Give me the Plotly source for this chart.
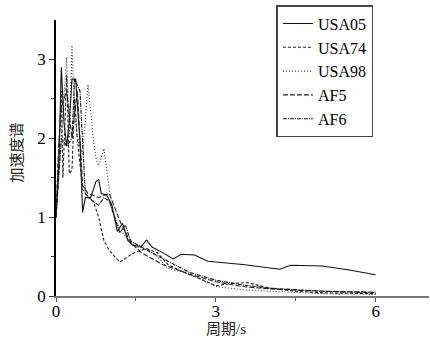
import plotly.graph_objects as go

# ---- data ----
usa05_x = [0, 0.05, 0.1, 0.15, 0.2, 0.25, 0.3, 0.37, 0.45, 0.5, 0.55, 0.65, 0.75, 0.8, 0.85, 0.95, 1.05, 1.15, 1.25, 1.35, 1.45, 1.6, 1.7, 1.8, 2.0, 2.2, 2.35, 2.6, 2.85, 3.5, 4.2, 4.4, 5.0, 5.5, 6.0]
usa05_y = [1.0, 1.6, 2.9, 2.2, 1.9, 2.2, 2.75, 2.75, 1.95, 1.06, 1.25, 1.25, 1.45, 1.48, 1.3, 1.28, 1.15, 0.82, 0.92, 0.7, 0.64, 0.63, 0.71, 0.62, 0.55, 0.47, 0.53, 0.52, 0.44, 0.4, 0.34, 0.39, 0.38, 0.33, 0.27]

usa74_x = [0, 0.05, 0.1, 0.13, 0.2, 0.25, 0.3, 0.35, 0.4, 0.5, 0.6, 0.7, 0.8, 0.9, 1.0, 1.1, 1.2, 1.35, 1.5, 1.7, 1.9, 2.1, 2.4, 2.7, 3.0, 3.3, 3.6, 4.0, 4.5, 5.0, 6.0]
usa74_y = [1.0, 1.8, 2.6, 1.5, 2.8, 1.55, 1.6, 2.5, 2.0, 1.35, 1.25, 1.2, 1.0, 0.7, 0.58, 0.5, 0.43, 0.5, 0.56, 0.6, 0.55, 0.4, 0.3, 0.22, 0.13, 0.16, 0.17, 0.1, 0.06, 0.04, 0.03]

usa98_x = [0, 0.05, 0.1, 0.15, 0.2, 0.25, 0.3, 0.35, 0.4, 0.5, 0.6, 0.7, 0.75, 0.8, 0.9, 0.95, 1.05, 1.15, 1.3, 1.5, 1.7, 1.9, 2.1, 2.4, 2.7, 3.0, 3.5, 4.0, 5.0, 6.0]
usa98_y = [1.0, 1.5, 2.0, 2.4, 3.03, 2.0, 3.18, 2.3, 2.0, 1.8, 2.68, 2.0, 1.75, 1.65, 1.87, 1.6, 1.1, 0.9, 0.75, 0.62, 0.6, 0.5, 0.35, 0.3, 0.22, 0.12, 0.08, 0.06, 0.03, 0.02]

af5_x = [0, 0.05, 0.1, 0.2, 0.3, 0.4, 0.5, 0.6, 0.8, 1.0, 1.2, 1.4, 1.6, 2.0, 2.5, 3.0, 3.5, 4.0, 5.0, 6.0]
af5_y = [1.0, 1.9, 2.4, 2.6, 2.0, 2.6, 1.4, 1.3, 1.25, 1.3, 0.95, 0.68, 0.55, 0.4, 0.28, 0.18, 0.12, 0.09, 0.06, 0.05]

af6_x = [0, 0.1, 0.2, 0.3, 0.35, 0.45, 0.55, 0.7, 0.8, 0.9, 1.0, 1.1, 1.2, 1.3, 1.4, 1.6, 1.8, 2.0, 2.5, 3.0, 3.5, 4.0, 5.0, 6.0]
af6_y = [1.0, 2.0, 1.9, 2.0, 2.75, 2.6, 1.3, 1.2, 1.15, 1.25, 1.2, 1.0, 0.8, 0.9, 0.7, 0.62, 0.55, 0.48, 0.3, 0.2, 0.14, 0.1, 0.06, 0.04]

names = ["USA05", "USA74", "USA98", "AF5", "AF6"]
xs = [usa05_x, usa74_x, usa98_x, af5_x, af6_x]
ys = [usa05_y, usa74_y, usa98_y, af5_y, af6_y]
dashes = ["solid", "3px,2px", "1px,2px", "5px,2px", "4px,1px,1px,1px"]
colors = ["#111111", "#222222", "#333333", "#222222", "#111111"]

fig = go.Figure()
for n, x, y, d, c in zip(names, xs, ys, dashes, colors):
    fig.add_trace(go.Scatter(x=x, y=y, name=n, mode="lines",
                             line=dict(color=c, width=1.1, dash=d)))

serif = "Liberation Serif, Times New Roman, serif"
cjk = "Liberation Serif, Noto Sans CJK SC, serif"
fig.update_layout(
    width=430, height=341,
    margin=dict(l=56, r=1, t=20, b=45),
    paper_bgcolor="white", plot_bgcolor="white",
    font=dict(family=serif, size=17, color="black"),
    showlegend=True,
    legend=dict(x=0.591, y=1.054, xanchor="left", yanchor="top",
                bgcolor="white", bordercolor="#444", borderwidth=1.5,
                font=dict(family=serif, size=16, color="black"),
                itemwidth=30, tracegroupgap=0),
    xaxis=dict(range=[0, 7.0], tickvals=[0, 3, 6], ticks="outside", ticklen=4,
               ticklabelstandoff=-5,
               showline=True, linecolor="#777", linewidth=1.5, showgrid=False,
               zeroline=False, tickcolor="#555",
               minor=dict(tickvals=[1.5, 4.5], ticks="outside", ticklen=3, tickcolor="#555")),
    yaxis=dict(range=[0, 3.5], tickvals=[0, 1, 2, 3], ticks="outside", ticklen=5,
               showline=True, linecolor="black", linewidth=1.5, showgrid=False,
               zeroline=False, tickcolor="#333",
               minor=dict(tickvals=[0.5, 1.5, 2.5], ticks="outside", ticklen=3, tickcolor="#333")),
)
fig.add_annotation(text="周期/s", xref="paper", yref="paper", x=0.456, y=-0.118,
                   xanchor="center", yanchor="middle", showarrow=False,
                   font=dict(family=cjk, size=15, color="#222"))
fig.add_annotation(text="加速度谱", xref="paper", yref="paper", x=-0.102, y=0.52,
                   xanchor="center", yanchor="middle", showarrow=False, textangle=-90,
                   font=dict(family=cjk, size=15, color="#222"))

fig.write_html("out.html")
